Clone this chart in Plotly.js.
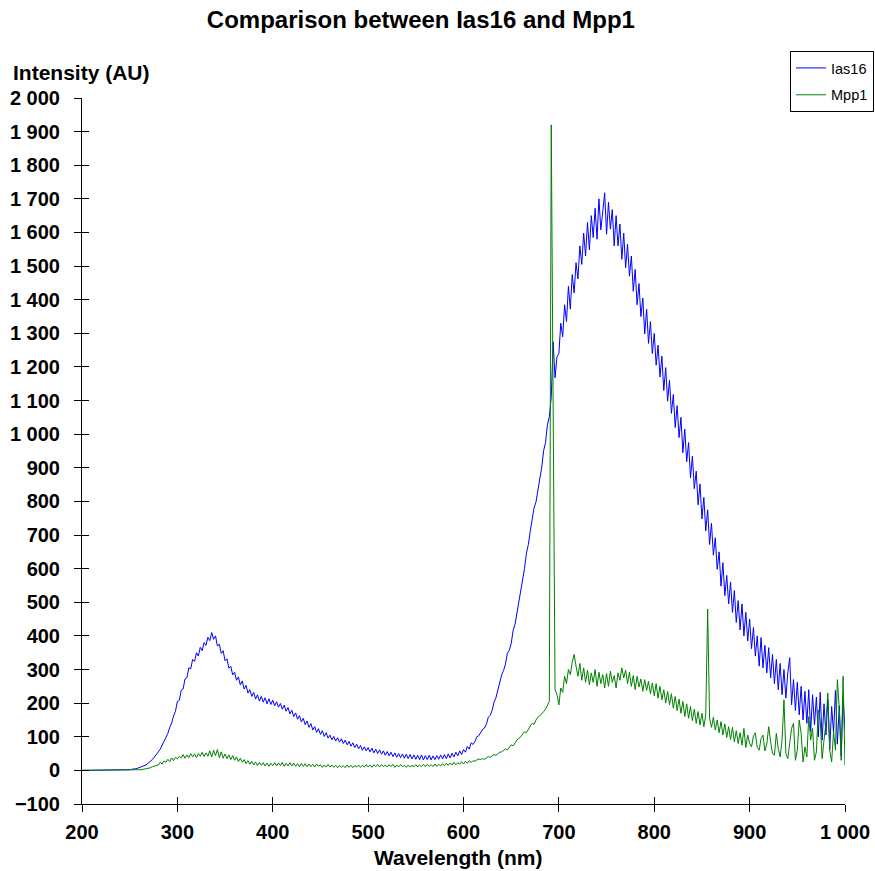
<!DOCTYPE html>
<html>
<head>
<meta charset="utf-8">
<script src="https://cdn.plot.ly/plotly-3.0.1.min.js"></script>
<style>html,body{margin:0;padding:0;background:#fff;}#chart{width:875px;height:871px;}</style>
</head>
<body>
<div id="chart"></div>
<script>
// Wavelength grid (nm): uniform sampling
const wavelengthStart = 200;
const wavelengthStep = 2;

// Ias16 intensity (AU), one value per 2 nm from 200 to 1000
const ias16 = [
0,0,0,0,0, 0,0,0,0,0, 0,0,0,0,0, 0,0,0,0,0, 0,0,0,0,0,
2,3,3,5,6,
8,9,12,15,18,
23,27,33,40,46,
55,63,75,84,98,
110,128,141,162,176,
205,208,238,242,272,
276,305,302,330,324,
350,340,366,356,380,
372,396,386,410,390,
400,370,375,348,356,
326,332,304,310,284,
292,268,278,254,266,
242,253,230,240,220,
232,212,225,206,220,
203,216,198,213,196,
209,192,204,188,199,
182,194,176,187,168,
179,160,171,152,163,
144,155,136,147,128,
139,120,130,113,124,
107,118,101,112,96,
105,91,101,87,97,
84,94,80,90,76,
86,72,82,68,78,
64,74,60,70,58,
68,55,66,52,63,
50,61,48,58,45,
56,43,54,41,52,
39,50,38,49,36,
48,35,47,34,46,
33,45,32,46,31,
44,32,45,31,43,
32,44,33,46,34,
47,35,49,37,51,
40,54,43,58,47,
62,54,71,63,82,
77,86,100,103,111,
122,126,137,158,164,
178,203,216,238,266,
284,297,316,348,357,
377,416,434,468,505,
538,561,601,646,672,
712,748,781,798,840,
868,900,951,975,1028,
1052,1110,1275,1168,1230,
1240,1330,1290,1385,1335,
1440,1372,1475,1420,1510,
1462,1560,1505,1598,1530,
1630,1548,1650,1585,1672,
1580,1700,1608,1662,1718,
1595,1690,1610,1668,1560,
1650,1560,1625,1520,1598,
1495,1565,1470,1530,1425,
1490,1385,1448,1350,1405,
1298,1372,1270,1335,1240,
1300,1205,1265,1170,1232,
1130,1198,1098,1160,1062,
1118,1020,1085,990,1050,
945,1015,918,975,870,
935,838,890,790,852,
748,812,712,775,672,
735,640,692,598,650,
548,618,520,580,495,
560,470,535,440,505,
418,495,400,470,385,
450,362,425,340,400,
310,395,305,372,290,
365,275,345,258,330,
240,318,225,300,215,
290,335,195,270,178,
262,165,250,150,235,
140,240,115,225,135,
218,100,232,90,198,
105,212,62,190,112,
238,78,192,42,215,
120
];

// Mpp1 intensity (AU), one value per 2 nm from 200 to 1000
const mpp1 = [
0,0,0,0,0, 0,0,0,0,0, 0,0,0,0,0, 0,0,0,0,0, 0,0,0,0,0, 0,0,0,0,0,
1,2,3,4,6,
7,8,11,13,16,
16,24,19,28,24,
33,26,37,29,39,
34,42,37,47,36,
46,38,50,40,49,
38,50,42,54,41,
52,42,58,40,60,
44,62,38,55,36,
49,35,46,32,44,
30,40,26,36,24,
32,20,29,18,27,
16,25,14,24,15,
23,13,22,12,21,
14,23,13,22,14,
24,12,21,13,23,
13,22,12,20,11,
21,12,20,11,19,
11,18,10,19,12,
17,9,16,10,18,
10,16,9,15,8,
15,9,14,8,16,
9,15,8,14,10,
16,9,15,10,17,
10,16,9,17,11,
18,10,17,11,16,
10,17,11,18,9,
16,10,17,11,15,
9,16,10,15,11,
17,10,16,11,18,
11,18,12,17,11,
19,12,18,13,20,
14,21,15,22,16,
24,17,23,18,26,
19,27,21,29,23,
29,27,31,34,32,
35,33,38,41,39,
43,47,45,51,54,
55,60,64,61,70,
76,73,82,90,95,
100,108,115,112,124,
132,140,137,150,158,
162,170,175,182,195,
205,1920,1000,240,225,
195,245,232,280,258,
300,285,322,345,310,
280,318,268,305,262,
298,255,290,262,300,
250,292,258,285,245,
288,250,295,262,282,
245,290,268,305,275,
298,258,292,250,282,
240,280,248,272,235,
270,238,265,228,260,
222,258,215,250,210,
240,200,235,195,228,
185,220,178,212,170,
205,160,198,155,190,
148,182,140,175,135,
170,130,165,480,155,
128,158,120,150,112,
145,105,138,98,130,
92,128,85,118,80,
112,75,125,68,105,
80,70,102,112,68,
60,95,105,58,78,
130,85,50,45,110,
65,40,90,210,50,
35,80,125,140,30,
60,150,110,25,70,
40,160,90,125,30,
55,180,150,35,90,
140,230,60,25,115,
60,270,185,30,280,
15
];

const seriesNames = ['Ias16', 'Mpp1'];
const seriesColors = ['#0000ff', '#008000'];
const xRange = [200, 1000];
const yRange = [-100, 2000];

function grid(values) {
  return values.map((_, i) => wavelengthStart + i * wavelengthStep);
}

const traces = [
  {x: grid(ias16), y: ias16, type: 'scatter', mode: 'lines', name: seriesNames[0], legendgroup: 'a',
   line: {color: seriesColors[0], width: 1}},
  {x: grid(mpp1), y: mpp1, type: 'scatter', mode: 'lines', name: seriesNames[1], legendgroup: 'b',
   line: {color: seriesColors[1], width: 1}},
  {x: [null], y: [null], xaxis: 'x2', yaxis: 'y2', type: 'scatter', mode: 'lines',
   showlegend: false, hoverinfo: 'skip'}
];

const FONT = 'Liberation Sans, Arial, Helvetica, sans-serif';
const tickFont = {family: FONT, size: 20, color: '#000', weight: 'bold'};

const layout = {
  width: 875, height: 871,
  margin: {l: 82, r: 30, t: 98, b: 67, autoexpand: false},
  paper_bgcolor: '#fff', plot_bgcolor: '#fff',
  font: {family: FONT, color: '#000'},
  separators: '. ',
  showlegend: true,
  title: {
    text: 'Comparison between Ias16 and Mpp1',
    font: {family: FONT, size: 24, color: '#000', weight: 'bold'},
    x: 0.481, xref: 'container', xanchor: 'center',
    y: 1 - 20 / 871, yref: 'container', yanchor: 'middle'
  },
  xaxis: {
    range: xRange, tick0: 0, dtick: 100, ticks: 'outside', ticklen: 7, tickwidth: 1, tickcolor: '#000',
    showline: true, linecolor: '#000', linewidth: 1, showgrid: false, zeroline: false,
    tickfont: tickFont, separatethousands: true, ticklabelstandoff: 3, fixedrange: true
  },
  yaxis: {
    range: yRange, tick0: 0, dtick: 100, ticks: 'outside', ticklen: 7, tickwidth: 1, tickcolor: '#000',
    showline: true, linecolor: '#000', linewidth: 1, showgrid: false, zeroline: false,
    tickfont: tickFont, separatethousands: true, ticklabelstandoff: 10, fixedrange: true
  },
  xaxis2: {
    overlaying: 'x', anchor: 'y2', range: xRange, tick0: 0, dtick: 100, ticks: 'inside', ticklen: 7,
    tickwidth: 1, tickcolor: '#000', showticklabels: false, showline: false, showgrid: false, zeroline: false
  },
  yaxis2: {
    overlaying: 'y', anchor: 'x2', range: yRange, tick0: 0, dtick: 100, ticks: 'inside', ticklen: 7,
    tickwidth: 1, tickcolor: '#000', showticklabels: false, showline: false, showgrid: false, zeroline: false
  },
  legend: {
    x: (874 - 82) / 763, xref: 'paper', xanchor: 'right',
    y: (804 - 51) / 706, yref: 'paper', yanchor: 'top',
    bgcolor: '#fff', bordercolor: '#000', borderwidth: 1,
    font: {family: FONT, size: 14.5, color: '#000'},
    itemwidth: 30, tracegroupgap: 5
  },
  annotations: [
    {text: 'Intensity (AU)', xref: 'paper', yref: 'paper', x: (11 - 82) / 763, y: (804 - 73) / 706,
     xanchor: 'left', yanchor: 'middle', showarrow: false,
     font: {family: FONT, size: 21, color: '#000', weight: 'bold'}},
    {text: 'Wavelength (nm)', xref: 'paper', yref: 'paper', x: (458 - 82) / 763, y: (804 - 858) / 706,
     xanchor: 'center', yanchor: 'middle', showarrow: false,
     font: {family: FONT, size: 21, color: '#000', weight: 'bold'}}
  ]
};

Plotly.newPlot('chart', traces, layout, {displayModeBar: false, staticPlot: true});
</script>
</body>
</html>
